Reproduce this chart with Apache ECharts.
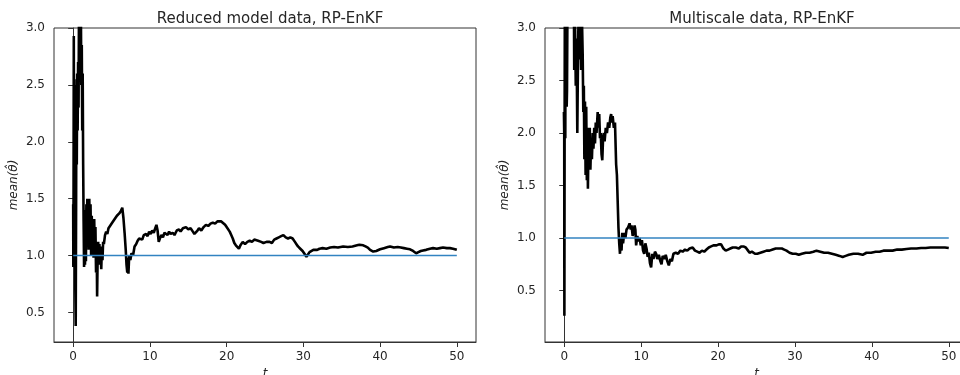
<!DOCTYPE html>
<html>
<head>
<meta charset="utf-8">
<script src="https://cdn.jsdelivr.net/npm/echarts@6/dist/echarts.min.js"></script>
<style>
  html, body { margin: 0; padding: 0; background: #fff; }
  #chart { width: 960px; height: 375px; }
</style>
</head>
<body>
<div id="chart"></div>
<script>
// reduced model data, RP-EnKF
const reducedT = [
  0.00, 0.02, 0.05, 0.08, 0.12, 0.16, 0.20, 0.24, 0.28, 0.33, 0.38, 0.42, 0.47, 0.52, 0.58, 0.64, 0.70, 0.76, 0.82, 0.88,
  0.94, 1.00, 1.06, 1.12, 1.18, 1.24, 1.30, 1.36, 1.42, 1.48, 1.54, 1.60, 1.66, 1.72, 1.78, 1.84, 1.90, 1.96, 2.02, 2.10,
  2.18, 2.26, 2.34, 2.42, 2.50, 2.58, 2.66, 2.74, 2.82, 2.90, 2.98, 3.06, 3.12, 3.18, 3.26, 3.34, 3.42, 3.50, 3.58, 3.66,
  3.74, 3.82, 3.90, 4.00, 4.15, 4.30, 4.45, 4.60, 4.80, 5.00, 5.10, 5.30, 5.50, 5.70, 5.85, 6.00, 6.20, 6.40, 6.55, 6.70,
  6.85, 6.95, 7.05, 7.12, 7.20, 7.30, 7.45, 7.60, 7.80, 8.00, 8.20, 8.40, 8.60, 8.80, 9.00, 9.20, 9.50, 9.70, 9.90, 10.10,
  10.30, 10.50, 10.70, 10.85, 11.00, 11.15, 11.30, 11.50, 11.70, 11.90, 12.10, 12.30, 12.50, 12.70, 12.97, 13.20, 13.50, 13.80, 14.00, 14.30,
  14.70, 15.00, 15.30, 15.60, 15.80, 16.00, 16.20, 16.40, 16.70, 17.00, 17.30, 17.60, 17.90, 18.20, 18.50, 18.80, 19.00, 19.30, 19.50, 19.80,
  20.00, 20.20, 20.40, 20.60, 20.80, 21.00, 21.20, 21.40, 21.60, 21.80, 22.10, 22.40, 22.70, 23.00, 23.30, 23.60, 23.80, 24.10, 24.50, 24.80,
  25.20, 25.60, 25.90, 26.20, 26.50, 26.80, 27.10, 27.40, 27.70, 28.00, 28.30, 28.60, 28.90, 29.10, 29.30, 29.60, 29.90, 30.10, 30.40, 30.60,
  30.80, 31.30, 31.80, 32.10, 32.50, 33.00, 33.50, 34.00, 34.50, 35.20, 35.80, 36.40, 37.00, 37.30, 37.80, 38.10, 38.40, 38.70, 39.10, 39.50,
  40.00, 40.50, 41.00, 41.30, 41.80, 42.30, 42.70, 43.10, 43.50, 43.90, 44.30, 44.70, 45.00, 45.30, 45.60, 46.00, 46.50, 46.90, 47.40, 47.80,
  48.20, 48.70, 49.10, 49.50, 50.00
]
const reducedMean = [
  1.45, 0.90, 1.60, 2.93, 1.20, 2.55, 1.00, 2.50, 0.70, 0.38, 1.40, 2.40, 1.80, 2.60, 2.10, 2.70, 2.30, 3.20, 2.60, 3.30,
  2.80, 3.20, 2.50, 2.85, 2.10, 2.60, 1.80, 1.30, 0.90, 1.40, 0.92, 1.35, 0.95, 1.45, 1.10, 1.50, 1.20, 1.48, 1.05, 1.50,
  1.15, 1.45, 1.00, 1.35, 1.05, 1.30, 0.98, 1.32, 1.02, 1.25, 0.85, 1.10, 0.64, 0.95, 1.12, 0.92, 1.10, 0.95, 1.05, 0.88,
  1.08, 0.96, 1.12, 1.10, 1.18, 1.21, 1.19, 1.24, 1.26, 1.25, 1.29, 1.31, 1.30, 1.35, 1.34, 1.37, 1.39, 1.42, 1.33, 1.20,
  1.05, 0.92, 0.85, 0.98, 0.84, 1.00, 0.96, 1.02, 1.00, 1.08, 1.10, 1.13, 1.15, 1.16, 1.14, 1.18, 1.19, 1.17, 1.21, 1.19,
  1.22, 1.20, 1.24, 1.27, 1.22, 1.12, 1.15, 1.18, 1.16, 1.20, 1.21, 1.18, 1.21, 1.19, 1.20, 1.18, 1.22, 1.23, 1.21, 1.24,
  1.25, 1.23, 1.24, 1.21, 1.19, 1.18, 1.22, 1.24, 1.22, 1.25, 1.27, 1.26, 1.28, 1.29, 1.28, 1.30, 1.31, 1.30, 1.29, 1.27,
  1.25, 1.24, 1.21, 1.18, 1.15, 1.11, 1.09, 1.10, 1.06, 1.09, 1.12, 1.10, 1.12, 1.13, 1.12, 1.14, 1.14, 1.13, 1.12, 1.11,
  1.12, 1.12, 1.11, 1.14, 1.15, 1.16, 1.17, 1.18, 1.16, 1.15, 1.16, 1.15, 1.12, 1.10, 1.08, 1.06, 1.04, 1.02, 0.99, 1.01,
  1.03, 1.05, 1.05, 1.06, 1.065, 1.06, 1.07, 1.075, 1.07, 1.08, 1.075, 1.08, 1.09, 1.095, 1.09, 1.08, 1.07, 1.05, 1.035, 1.04,
  1.055, 1.065, 1.075, 1.08, 1.07, 1.075, 1.07, 1.065, 1.06, 1.055, 1.04, 1.02, 1.03, 1.04, 1.045, 1.05, 1.06, 1.065, 1.06, 1.065,
  1.07, 1.065, 1.065, 1.06, 1.05
]

// multiscale data, RP-EnKF
const multiT = [
  -0.04, 0.00, 0.02, 0.05, 0.08, 0.11, 0.14, 0.17, 0.20, 0.24, 0.28, 0.32, 0.36, 0.45, 0.70, 1.00, 1.25, 1.30, 1.40, 1.50,
  1.60, 1.70, 1.80, 1.90, 2.00, 2.10, 2.20, 2.30, 2.40, 2.48, 2.55, 2.62, 2.70, 2.78, 2.86, 2.94, 3.02, 3.08, 3.16, 3.24,
  3.32, 3.40, 3.50, 3.60, 3.70, 3.80, 3.90, 4.00, 4.10, 4.20, 4.35, 4.45, 4.55, 4.65, 4.75, 4.85, 4.95, 5.05, 5.15, 5.25,
  5.40, 5.55, 5.70, 5.85, 6.00, 6.10, 6.20, 6.30, 6.45, 6.60, 6.75, 6.85, 6.95, 7.05, 7.15, 7.25, 7.35, 7.45, 7.55, 7.65,
  7.80, 7.95, 8.10, 8.30, 8.50, 8.65, 8.75, 8.90, 9.00, 9.15, 9.25, 9.35, 9.50, 9.65, 9.80, 9.95, 10.10, 10.25, 10.40, 10.55,
  10.70, 10.85, 11.00, 11.15, 11.30, 11.45, 11.60, 11.80, 11.95, 12.10, 12.30, 12.50, 12.65, 12.80, 13.00, 13.20, 13.40, 13.60, 13.80, 14.00,
  14.20, 14.50, 14.80, 15.10, 15.40, 15.70, 16.00, 16.30, 16.70, 17.00, 17.30, 17.60, 17.90, 18.20, 18.50, 18.80, 19.10, 19.40, 19.80, 20.10,
  20.40, 20.70, 21.00, 21.30, 21.60, 21.90, 22.30, 22.70, 23.00, 23.30, 23.60, 23.90, 24.10, 24.40, 24.80, 25.10, 25.50, 25.90, 26.30, 26.70,
  27.10, 27.50, 27.90, 28.30, 28.60, 28.90, 29.30, 29.70, 30.10, 30.50, 30.90, 31.40, 31.90, 32.40, 32.80, 33.30, 33.80, 34.30, 34.80, 35.30,
  35.80, 36.20, 36.60, 37.00, 37.60, 38.20, 38.80, 39.30, 39.90, 40.50, 41.00, 41.50, 42.10, 42.70, 43.30, 43.90, 44.50, 45.10, 45.80, 46.40,
  47.00, 47.60, 48.30, 48.90, 49.50, 50.00
]
const multiMean = [
  2.20, 2.00, 0.26, 2.00, 3.30, 2.20, 1.95, 3.20, 2.30, 2.60, 3.30, 2.25, 2.40, 3.60, 4.00, 3.80, 3.40, 2.60, 3.10, 2.45,
  2.90, 2.00, 2.80, 3.30, 2.70, 3.05, 2.60, 3.10, 2.75, 2.20, 2.45, 1.75, 2.30, 1.60, 2.25, 1.55, 2.05, 1.47, 1.95, 1.70,
  2.05, 1.65, 1.95, 1.75, 2.00, 1.85, 2.05, 1.90, 2.10, 2.00, 2.20, 2.05, 2.18, 1.95, 2.00, 1.80, 1.74, 1.95, 2.00, 1.92,
  2.05, 2.00, 2.10, 2.05, 2.15, 2.18, 2.10, 2.16, 2.05, 2.10, 1.70, 1.60, 1.35, 1.10, 0.95, 0.85, 1.00, 0.88, 1.05, 0.95,
  1.05, 1.00, 1.08, 1.10, 1.14, 1.08, 1.12, 1.02, 1.05, 1.12, 1.08, 0.93, 1.02, 0.97, 1.00, 0.93, 0.98, 0.88, 0.85, 0.95,
  0.90, 0.82, 0.86, 0.76, 0.72, 0.85, 0.80, 0.87, 0.85, 0.80, 0.84, 0.78, 0.75, 0.83, 0.80, 0.84, 0.78, 0.74, 0.80, 0.78,
  0.85, 0.86, 0.85, 0.88, 0.87, 0.89, 0.88, 0.90, 0.91, 0.88, 0.87, 0.86, 0.88, 0.87, 0.89, 0.91, 0.92, 0.93, 0.93, 0.94,
  0.94, 0.90, 0.88, 0.89, 0.90, 0.91, 0.91, 0.90, 0.92, 0.92, 0.91, 0.88, 0.86, 0.87, 0.85, 0.85, 0.86, 0.87, 0.88, 0.88,
  0.89, 0.90, 0.90, 0.90, 0.89, 0.88, 0.86, 0.85, 0.85, 0.84, 0.85, 0.86, 0.86, 0.87, 0.88, 0.87, 0.86, 0.86, 0.85, 0.84,
  0.83, 0.82, 0.83, 0.84, 0.85, 0.85, 0.84, 0.86, 0.86, 0.87, 0.87, 0.88, 0.88, 0.88, 0.89, 0.89, 0.895, 0.90, 0.90, 0.905,
  0.905, 0.91, 0.91, 0.91, 0.91, 0.905
]

// true parameter
const trueT = [0, 50]
const trueTheta = [1, 1]

const xTicks = [0, 10, 20, 30, 40, 50]
const yTicks = [0.5, 1.0, 1.5, 2.0, 2.5, 3.0]

const pairs = (xs, ys) => xs.map((x, i) => [x, ys[i]])

const textColor = '#262626'
const font = 'DejaVu Sans'

function xAxisFor(idx) {
  return {
    type: 'value',
    gridIndex: idx,
    min: -2.5,
    max: 52.5,
    name: 't',
    nameLocation: 'middle',
    nameGap: 26,
    nameTextStyle: { fontFamily: font, fontStyle: 'italic', fontSize: 12, color: textColor },
    axisLine: { show: true, lineStyle: { color: '#333', width: 1 } },
    axisTick: { show: true, inside: false, length: 5, customValues: xTicks, lineStyle: { color: '#333' } },
    axisLabel: { customValues: xTicks, fontFamily: font, fontSize: 12, color: textColor, margin: 9 },
    splitLine: { show: false }
  }
}

function yAxisFor(idx, min) {
  return {
    type: 'value',
    gridIndex: idx,
    min: min,
    max: 3.0,
    name: 'mean(θ\u0302)',
    nameLocation: 'middle',
    nameRotate: 90,
    nameGap: 34,
    nameTextStyle: { fontFamily: font, fontStyle: 'italic', fontSize: 12, color: textColor },
    axisLine: { show: true, lineStyle: { color: '#333', width: 1 } },
    axisTick: { show: true, inside: false, length: 5, customValues: yTicks, lineStyle: { color: '#333' } },
    axisLabel: {
      customValues: yTicks,
      fontFamily: font, fontSize: 12, color: textColor, margin: 9,
      formatter: v => v.toFixed(1)
    },
    splitLine: { show: false }
  }
}

const option = {
  animation: false,
  backgroundColor: '#fff',
  title: [
    {
      text: 'Reduced model data, RP-EnKF',
      left: 265, top: 7, textAlign: 'center',
      textStyle: { fontFamily: font, fontSize: 15, fontWeight: 'normal', color: textColor }
    },
    {
      text: 'Multiscale data, RP-EnKF',
      left: 757, top: 7, textAlign: 'center',
      textStyle: { fontFamily: font, fontSize: 15, fontWeight: 'normal', color: textColor }
    }
  ],
  grid: [
    {
      left: 54, top: 28, width: 422, bottom: 33, outerBoundsMode: 'none', containLabel: false,
      show: true, borderColor: '#333', borderWidth: 1, backgroundColor: 'transparent'
    },
    {
      left: 545, top: 28, width: 423, bottom: 33, outerBoundsMode: 'none', containLabel: false,
      show: true, borderColor: '#333', borderWidth: 1, backgroundColor: 'transparent'
    }
  ],
  xAxis: [xAxisFor(0), xAxisFor(1)],
  yAxis: [yAxisFor(0, 0.24), yAxisFor(1, 0.01)],
  series: [
    {
      type: 'line', xAxisIndex: 0, yAxisIndex: 0,
      data: pairs(reducedT, reducedMean),
      showSymbol: false, clip: true,
      lineStyle: { color: '#000', width: 2.6 }
    },
    {
      type: 'line', xAxisIndex: 0, yAxisIndex: 0,
      data: pairs(trueT, trueTheta),
      showSymbol: false,
      lineStyle: { color: '#3283c1', width: 1.6 }
    },
    {
      type: 'line', xAxisIndex: 1, yAxisIndex: 1,
      data: pairs(multiT, multiMean),
      showSymbol: false, clip: true,
      lineStyle: { color: '#000', width: 2.6 }
    },
    {
      type: 'line', xAxisIndex: 1, yAxisIndex: 1,
      data: pairs(trueT, trueTheta),
      showSymbol: false,
      lineStyle: { color: '#3283c1', width: 1.6 }
    }
  ]
}

let chart = echarts.init(document.getElementById('chart'))
chart.setOption(option)
</script>
</body>
</html>
